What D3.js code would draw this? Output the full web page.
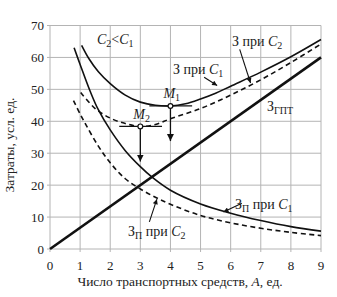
<!DOCTYPE html>
<html>
<head>
<meta charset="utf-8">
<script src="https://cdn.jsdelivr.net/npm/d3@7"></script>
<style>
  body { margin: 0; background: #fff; }
  svg text { font-family: "Liberation Serif", "Times New Roman", serif; fill: #222; }
</style>
</head>
<body>
<svg id="chart" width="337" height="297"></svg>
<script>
/*** DATA ***/
const aTicks = [0, 1, 2, 3, 4, 5, 6, 7, 8, 9];
const zTicks = [0, 10, 20, 30, 40, 50, 60, 70];

// З_ГПТ
const gptA = [0, 9];
const gptZ = [0, 60];

// З_П при C1 (solid)
const zpC1A = [0.8, 1, 1.33, 1.6, 2, 2.5, 3, 3.4, 4, 5, 6, 7, 8, 9];
const zpC1Z = [63, 57.8, 49.5, 43.7, 37.3, 30.8, 25.8, 22.4, 18.4, 14.1, 11.2, 8.9, 7, 5.6];

// З_П при C2 (dashed)
const zpC2A = [0.78, 1, 1.2, 1.6, 2, 2.5, 3, 3.5, 4, 5, 6, 7, 8, 9];
const zpC2Z = [46.5, 42.3, 38.8, 32.3, 27, 22, 18.8, 16.2, 14, 10.5, 8.2, 6.5, 5.2, 4.2];

// З при C1 (solid)
const zC1A = [1.05, 1.3, 1.6, 2, 2.5, 3, 3.5, 4, 4.5, 5, 5.5, 6, 7, 8, 9];
const zC1Z = [63.8, 59.5, 55.6, 51.8, 48.2, 46, 45, 44.8, 45.5, 47, 48.8, 51, 55.4, 60.2, 65.6];

// З при C2 (dashed)
const zC2A = [1.02, 1.5, 2, 2.5, 3, 3.5, 4, 5, 6, 7, 8, 9];
const zC2Z = [49, 44, 41, 39.3, 38.4, 39, 40.8, 44, 48.2, 53, 58.4, 64.2];

// minimum points
const minA = [4, 3];
const minZ = [44.8, 38.4];
const minNames = ["1", "2"];

/*** SETUP ***/
const svg = d3.select("#chart");
const x = d3.scaleLinear().domain([0, 9]).range([50, 321]);
const y = d3.scaleLinear().domain([0, 70]).range([249, 25.5]);

const defs = svg.append("defs");
defs.append("marker")
  .attr("id", "bigHead")
  .attr("viewBox", "0 0 10 10")
  .attr("refX", 10).attr("refY", 5)
  .attr("markerWidth", 7).attr("markerHeight", 8)
  .attr("markerUnits", "userSpaceOnUse")
  .attr("orient", "auto")
  .append("path").attr("d", "M0,0L10,5L0,10Z").attr("fill", "#111");
defs.append("marker")
  .attr("id", "smallHead")
  .attr("viewBox", "0 0 10 10")
  .attr("refX", 10).attr("refY", 5)
  .attr("markerWidth", 6).attr("markerHeight", 5)
  .attr("markerUnits", "userSpaceOnUse")
  .attr("orient", "auto")
  .append("path").attr("d", "M0,0L10,5L0,10Z").attr("fill", "#111");

// grid
svg.append("g")
  .selectAll("line")
  .data(aTicks)
  .join("line")
  .attr("x1", d => x(d)).attr("x2", d => x(d))
  .attr("y1", y(70)).attr("y2", y(0) + 3)
  .attr("stroke", "#b4b4b4").attr("stroke-width", 1);

svg.append("g")
  .selectAll("line")
  .data(zTicks)
  .join("line")
  .attr("x1", x(0) - 3).attr("x2", x(9))
  .attr("y1", d => y(d)).attr("y2", d => y(d))
  .attr("stroke", "#b4b4b4").attr("stroke-width", 1);

// tick labels
svg.append("g")
  .selectAll("text")
  .data(aTicks)
  .join("text")
  .attr("x", d => x(d))
  .attr("y", 269.5)
  .attr("text-anchor", "middle")
  .attr("font-size", "13px")
  .text(d => d);

svg.append("g")
  .selectAll("text")
  .data(zTicks)
  .join("text")
  .attr("x", 44)
  .attr("y", d => y(d) + 4.5)
  .attr("text-anchor", "end")
  .attr("font-size", "13px")
  .text(d => d);

// axis titles
const xTitle = svg.append("text")
  .attr("x", 180).attr("y", 285.5)
  .attr("text-anchor", "middle")
  .attr("font-size", "13.5px");
xTitle.append("tspan").text("Число транспортных средств, ");
xTitle.append("tspan").attr("font-style", "italic").text("A");
xTitle.append("tspan").text(", ед.");

svg.append("text")
  .attr("transform", "translate(14,145) rotate(-90)")
  .attr("text-anchor", "middle")
  .attr("font-size", "13.5px")
  .text("Затраты, усл. ед.");

/*** CURVES ***/
const line = d3.line()
  .x(d => x(d[0]))
  .y(d => y(d[1]))
  .curve(d3.curveCatmullRom.alpha(0.5));

function pts(as, zs) {
  return as.map((a, i) => [a, zs[i]]);
}

const curves = [
  {data: pts(gptA, gptZ), width: 2.6, dash: null},
  {data: pts(zpC1A, zpC1Z), width: 1.6, dash: null},
  {data: pts(zpC2A, zpC2Z), width: 1.6, dash: "5,3.5"},
  {data: pts(zC1A, zC1Z), width: 1.6, dash: null},
  {data: pts(zC2A, zC2Z), width: 1.6, dash: "5,3.5"}
];

svg.append("g")
  .selectAll("path")
  .data(curves)
  .join("path")
  .attr("d", d => line(d.data))
  .attr("fill", "none")
  .attr("stroke", "#111")
  .attr("stroke-width", d => d.width)
  .attr("stroke-dasharray", d => d.dash);

/*** MINIMUM POINTS ***/
const mins = minA.map((a, i) => ({a: a, z: minZ[i], n: minNames[i]}));
const gm = svg.append("g");

gm.selectAll(".tan")
  .data(mins)
  .join("line")
  .attr("x1", d => x(d.a - 0.7)).attr("x2", d => x(d.a + 0.72))
  .attr("y1", d => y(d.z)).attr("y2", d => y(d.z))
  .attr("stroke", "#111").attr("stroke-width", 1.3);

gm.selectAll(".arr")
  .data(mins)
  .join("line")
  .attr("x1", d => x(d.a)).attr("x2", d => x(d.a))
  .attr("y1", d => y(d.z) + 2)
  .attr("y2", d => y(d.z - 11))
  .attr("stroke", "#111").attr("stroke-width", 1.3)
  .attr("marker-end", "url(#bigHead)");

gm.selectAll("circle")
  .data(mins)
  .join("circle")
  .attr("cx", d => x(d.a)).attr("cy", d => y(d.z))
  .attr("r", 2.4)
  .attr("fill", "#fff").attr("stroke", "#111").attr("stroke-width", 1.2);

const mLab = gm.selectAll(".mlab")
  .data(mins)
  .join("text")
  .attr("x", d => x(d.a) - 7)
  .attr("y", d => y(d.z) - 7.5)
  .attr("font-size", "14px");
mLab.append("tspan").attr("font-style", "italic").text("M");
mLab.append("tspan").attr("font-size", "10px").attr("dy", 3).text(d => d.n);

/*** ANNOTATIONS ***/
function label(px, py, parts, size) {
  const t = svg.append("text").attr("x", px).attr("y", py).attr("font-size", size || "14px");
  parts.forEach(p => {
    const s = t.append("tspan").text(p.t);
    if (p.i) s.attr("font-style", "italic");
    if (p.sub) s.attr("font-size", "10px").attr("dy", 3);
    if (p.up) s.attr("dy", -3);
  });
  return t;
}

function leader(a1, z1, a2, z2) {
  svg.append("line")
    .attr("x1", x(a1)).attr("y1", y(z1))
    .attr("x2", x(a2)).attr("y2", y(z2))
    .attr("stroke", "#111").attr("stroke-width", 1.1)
    .attr("marker-end", "url(#smallHead)");
}

label(97, 44, [{t: "C", i: 1}, {t: "2", sub: 1}, {t: "<", up: 1}, {t: "C", i: 1}, {t: "1", sub: 1}]);

label(232, 46, [{t: "З при "}, {t: "C", i: 1}, {t: "2", sub: 1}]);
leader(6.3, 62.5, 6.66, 52);

label(173, 74, [{t: "З при "}, {t: "C", i: 1}, {t: "1", sub: 1}]);
leader(5.12, 53.8, 5.55, 51.2);

label(267, 111, [{t: "З"}, {t: "ГПТ", sub: 1}]);

label(235, 209, [{t: "З"}, {t: "П", sub: 1}, {t: " при ", up: 1}, {t: "C", i: 1}, {t: "1", sub: 1}]);
leader(6.37, 14.3, 5.76, 11.6);

label(128, 236, [{t: "З"}, {t: "П", sub: 1}, {t: " при ", up: 1}, {t: "C", i: 1}, {t: "2", sub: 1}]);
leader(3.3, 8.5, 3.55, 15.6);
</script>
</body>
</html>
